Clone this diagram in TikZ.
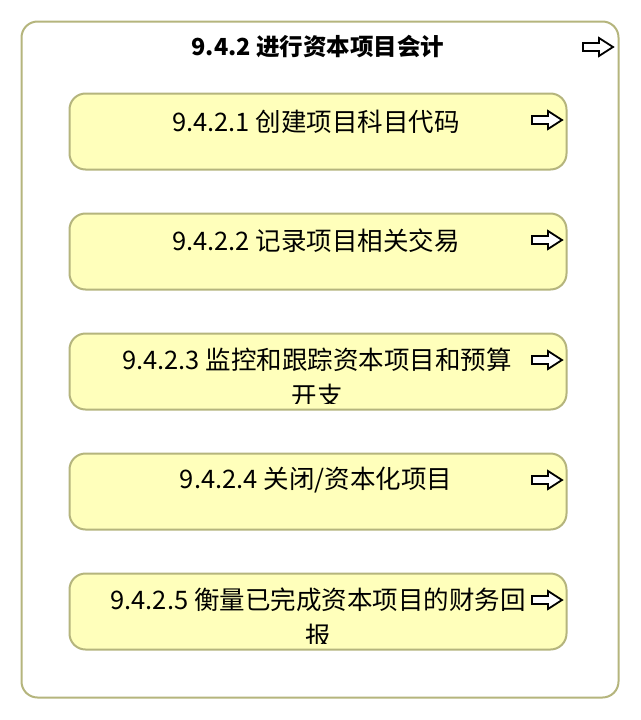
\documentclass[tikz,border=0pt]{standalone}
\usepackage{fontspec}
\setmainfont{Noto Sans CJK SC}
\definecolor{bord}{RGB}{181,181,125}
\definecolor{fillY}{RGB}{255,255,187}
\begin{document}
\begin{tikzpicture}[x=1pt,y=-1pt,
  outerbox/.style={draw=bord, line width=2pt, fill=white, rounded corners=16pt, minimum width=597pt, minimum height=676pt, inner sep=0pt},
  taskbox/.style={draw=bord, line width=2pt, fill=fillY, rounded corners=16pt, minimum width=497pt, minimum height=76pt, inner sep=0pt},
  tasktext/.style={inner sep=0pt, align=center, font=\fontsize{25.5}{36}\selectfont},
  titletext/.style={inner sep=0pt, font=\bfseries\fontsize{23.5}{28}\selectfont},
  warrow/.pic={\draw[line width=1.8pt, fill=white, line join=miter] (-15,-4) -- (1,-4) -- (1,-9) -- (15,0) -- (1,9) -- (1,4) -- (-15,4) -- cycle;}]
\useasboundingbox (0,0) rectangle (640,720);
\node[outerbox] (outer) at (320,359.5) {};
\node[titletext] (title) at (318,47) {9.4.2 进行资本项目会计};
\pic at (598,47) {warrow};

\node[taskbox] (b1) at (318,131.5) {};
\node[taskbox] (b2) at (318,251.5) {};
\node[taskbox] (b3) at (318,371.5) {};
\node[taskbox] (b4) at (318,491.5) {};
\node[taskbox] (b5) at (318,611.5) {};

\begin{scope}\clip (69,93) rectangle (567,163);
\node[tasktext] (t1) at (316,122) {9.4.2.1 创建项目科目代码};\end{scope}
\begin{scope}\clip (69,213) rectangle (567,283);
\node[tasktext] (t2) at (316,241) {9.4.2.2 记录项目相关交易};\end{scope}
\begin{scope}\clip (69,333) rectangle (567,403);
\node[tasktext] (t3) at (317,378) {9.4.2.3 监控和跟踪资本项目和预算\\开支};\end{scope}
\begin{scope}\clip (69,453) rectangle (567,523);
\node[tasktext] (t4) at (316,480) {9.4.2.4 关闭/资本化项目};\end{scope}
\begin{scope}\clip (69,573) rectangle (567,643);
\node[tasktext] (t5) at (318,618) {9.4.2.5 衡量已完成资本项目的财务回\\报};\end{scope}

\pic at (547,120) {warrow};
\pic at (547,240) {warrow};
\pic at (547,360) {warrow};
\pic at (547,480) {warrow};
\pic at (547,600) {warrow};
\end{tikzpicture}
\end{document}
